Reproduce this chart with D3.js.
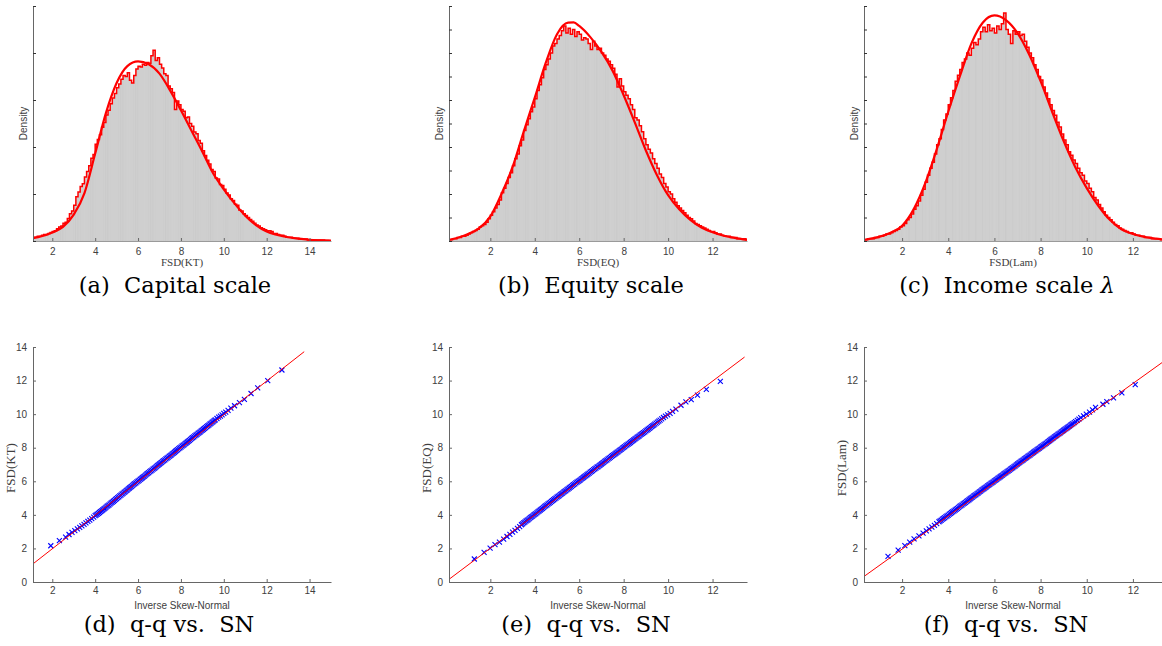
<!DOCTYPE html>
<html><head><meta charset="utf-8">
<script src="https://cdn.jsdelivr.net/npm/d3@7"></script>
<style>body{margin:0;background:#fff}svg{display:block}</style>
</head><body>
<svg id="c" width="1162" height="646"></svg>
<script>
// ---------------- DATA ----------------
const binWidth = 0.1;

// (a) FSD(KT) histogram densities, bins of width 0.1 starting at 1.1
const histStartKT = 1.1;
const histKT = [
0.004,0.004,0.005,0.005,0.006,0.007,0.007,0.008,0.009,
0.010,0.011,0.013,0.015,0.016,0.019,0.020,0.024,0.029,0.032,
0.038,0.047,0.052,0.058,0.061,0.068,0.074,0.080,0.088,0.092,
0.103,0.108,0.113,0.121,0.126,0.134,0.139,0.146,0.152,0.157,
0.163,0.167,0.172,0.176,0.175,0.179,0.171,0.168,0.176,0.183,
0.186,0.185,0.188,0.187,0.190,0.189,0.197,0.203,0.192,0.195,
0.188,0.184,0.178,0.176,0.165,0.162,0.158,0.140,0.149,0.145,
0.140,0.138,0.131,0.132,0.125,0.122,0.116,0.114,0.107,0.104,
0.096,0.091,0.086,0.082,0.076,0.074,0.067,0.066,0.060,0.059,
0.055,0.051,0.049,0.045,0.043,0.039,0.038,0.033,0.032,0.029,
0.027,0.025,0.023,0.021,0.019,0.017,0.016,0.014,0.013,0.012,
0.011,0.011,0.010,0.008,0.008,0.007,0.006,0.006,0.005,0.004,
0.004,0.004,0.003,0.003,0.003,0.002,0.002,0.002,0.002,0.001,
0.001,0.001,0.001,0.001,0.001,0.001,0.001,0.0005,0.0005,0.0003];
const fitKT = [[1.1,0.003],[1.5,0.005],[2.0,0.009],[2.5,0.015],[3.0,0.028],[3.5,0.051],[4.0,0.093],[4.5,0.136],[5.0,0.168],[5.5,0.186],[6.0,0.191],[6.5,0.188],[7.0,0.178],[7.5,0.160],[8.0,0.139],[8.5,0.117],[9.0,0.095],[9.5,0.072],[10.0,0.055],[10.5,0.040],[11.0,0.027],[11.5,0.017],[12.0,0.010],[12.5,0.0065],[13.0,0.004],[13.5,0.0025],[14.0,0.0012],[14.5,0.0007],[15.0,0.0004]];

// (b) FSD(EQ)
const histStartEQ = 0.1;
const histEQ = [
0.001,0.001,0.002,0.002,0.003,0.003,0.004,0.004,0.005,
0.006,0.007,0.008,0.009,0.010,0.012,0.013,0.014,0.016,0.019,
0.022,0.025,0.028,0.031,0.035,0.041,0.045,0.049,0.054,0.058,
0.064,0.070,0.074,0.081,0.086,0.094,0.099,0.104,0.110,0.114,
0.121,0.128,0.133,0.139,0.146,0.150,0.155,0.160,0.166,0.168,
0.172,0.175,0.179,0.183,0.177,0.181,0.176,0.180,0.174,0.178,
0.176,0.171,0.173,0.172,0.168,0.163,0.170,0.166,0.163,0.164,
0.160,0.158,0.155,0.153,0.150,0.147,0.142,0.131,0.138,0.132,
0.127,0.124,0.121,0.116,0.112,0.105,0.103,0.098,0.093,0.087,
0.082,0.078,0.075,0.070,0.066,0.062,0.057,0.054,0.049,0.046,
0.042,0.040,0.036,0.033,0.030,0.028,0.026,0.024,0.022,0.020,
0.019,0.017,0.015,0.014,0.013,0.012,0.011,0.010,0.009,0.008,
0.008,0.007,0.006,0.006,0.005,0.0045,0.004,0.004,0.003,0.003,
0.003,0.002,0.002,0.002,0.002,0.001];
const fitEQ = [[0.14,0.001],[0.5,0.0025],[1.0,0.006],[1.5,0.011],[2.0,0.021],[2.5,0.040],[3.0,0.063],[3.5,0.093],[4.0,0.122],[4.5,0.152],[5.0,0.176],[5.5,0.1858],[5.75,0.186],[6.0,0.183],[6.5,0.1735],[7.0,0.161],[7.5,0.145],[8.0,0.124],[8.5,0.101],[9.0,0.077],[9.5,0.056],[10.0,0.039],[10.5,0.027],[11.0,0.018],[11.5,0.0115],[12.0,0.0075],[12.5,0.0045],[13.0,0.0027],[13.55,0.001]];

// (c) FSD(Lam)
const histStartLam = 0.3;
const histLam = [
0.001,0.001,0.002,0.002,0.002,0.003,0.003,
0.004,0.004,0.005,0.006,0.006,0.007,0.008,0.009,0.010,0.012,
0.013,0.015,0.018,0.020,0.023,0.027,0.030,0.034,0.039,0.044,
0.050,0.056,0.062,0.067,0.074,0.082,0.087,0.095,0.103,0.108,
0.116,0.122,0.128,0.136,0.141,0.146,0.152,0.155,0.160,0.158,
0.164,0.169,0.167,0.172,0.178,0.182,0.178,0.184,0.179,0.181,
0.177,0.183,0.180,0.185,0.194,0.180,0.176,0.168,0.179,0.176,
0.178,0.175,0.176,0.170,0.165,0.160,0.156,0.150,0.146,0.140,
0.137,0.131,0.126,0.121,0.116,0.111,0.107,0.101,0.097,0.091,
0.086,0.082,0.076,0.073,0.069,0.066,0.062,0.058,0.056,0.051,
0.049,0.045,0.042,0.037,0.035,0.031,0.028,0.025,0.022,0.020,
0.018,0.016,0.014,0.013,0.011,0.010,0.009,0.008,0.007,0.007,
0.006,0.005,0.005,0.004,0.004,0.003,0.003,0.003,0.002,0.002,
0.002,0.002,0.001];
const fitLam = [[0.35,0.001],[0.5,0.0015],[1.0,0.0035],[1.5,0.007],[2.0,0.013],[2.5,0.027],[3.0,0.049],[3.5,0.078],[4.0,0.110],[4.5,0.140],[5.0,0.168],[5.5,0.186],[6.0,0.192],[6.5,0.188],[7.0,0.177],[7.5,0.159],[8.0,0.136],[8.5,0.110],[9.0,0.085],[9.5,0.063],[10.0,0.045],[10.5,0.030],[11.0,0.018],[11.5,0.010],[12.0,0.006],[12.5,0.0035],[13.0,0.002],[13.26,0.0014]];

// (d)(e)(f) q-q points: [inverse skew-normal quantile, sample quantile]
const qqKT = [[1.93,2.16],[2.33,2.47],[2.62,2.67],[2.78,2.83],[2.92,2.95],[3.05,3.06],[3.17,3.16],[3.28,3.25],[3.38,3.34],[3.48,3.43],[3.57,3.52],[3.66,3.61],[3.75,3.69],[3.84,3.78],[3.93,3.87],
[4.00,3.95],[4.05,4.00],[4.10,4.05],[4.15,4.09],[4.20,4.14],[4.25,4.19],[4.30,4.24],[4.35,4.29],[4.40,4.34],[4.45,4.39],
[4.50,4.44],[4.55,4.50],[4.60,4.55],[4.65,4.60],[4.70,4.65],[4.75,4.71],[4.80,4.76],[4.85,4.81],[4.90,4.86],[4.95,4.92],
[5.00,4.97],[5.05,5.02],[5.10,5.07],[5.15,5.13],[5.20,5.18],[5.25,5.23],[5.30,5.28],[5.35,5.34],[5.40,5.39],[5.45,5.44],
[5.50,5.49],[5.55,5.55],[5.60,5.60],[5.65,5.65],[5.70,5.70],[5.75,5.76],[5.80,5.81],[5.85,5.86],[5.90,5.91],[5.95,5.96],
[6.00,6.01],[6.05,6.06],[6.10,6.11],[6.15,6.16],[6.20,6.21],[6.25,6.26],[6.30,6.31],[6.35,6.37],[6.40,6.42],[6.45,6.47],
[6.50,6.52],[6.55,6.57],[6.60,6.62],[6.65,6.67],[6.70,6.72],[6.75,6.77],[6.80,6.82],[6.85,6.88],[6.90,6.93],[6.95,6.98],
[7.00,7.03],[7.05,7.08],[7.10,7.13],[7.15,7.18],[7.20,7.23],[7.25,7.28],[7.30,7.33],[7.35,7.38],[7.40,7.43],[7.45,7.48],
[7.50,7.53],[7.55,7.58],[7.60,7.63],[7.65,7.68],[7.70,7.73],[7.75,7.79],[7.80,7.84],[7.85,7.89],[7.90,7.94],[7.95,7.99],
[8.00,8.04],[8.05,8.09],[8.10,8.14],[8.15,8.19],[8.20,8.24],[8.25,8.29],[8.30,8.34],[8.35,8.39],[8.40,8.44],[8.45,8.50],
[8.50,8.55],[8.55,8.60],[8.60,8.65],[8.65,8.70],[8.70,8.75],[8.75,8.80],[8.80,8.85],[8.85,8.90],[8.90,8.95],[8.95,9.00],
[9.00,9.05],[9.05,9.10],[9.10,9.15],[9.15,9.20],[9.20,9.25],[9.25,9.30],[9.30,9.35],[9.35,9.40],[9.40,9.45],[9.45,9.51],
[9.50,9.56],[9.55,9.61],[9.60,9.66],
[9.68,9.74],[9.76,9.82],[9.84,9.88],[9.92,9.96],[10.0,10.04],[10.09,10.12],[10.2,10.22],[10.33,10.36],[10.5,10.5],[10.73,10.68],[10.96,10.88],[11.27,11.23],[11.58,11.57],[12.05,12.0],[12.71,12.63]];

const qqEQ = [[1.28,1.37],[1.72,1.76],[1.99,2.02],[2.21,2.22],[2.41,2.38],[2.6,2.56],[2.75,2.71],[2.88,2.84],[3.0,2.97],[3.11,3.08],[3.22,3.19],[3.32,3.3],
[3.40,3.41],[3.45,3.46],[3.50,3.52],[3.55,3.57],[3.60,3.62],[3.65,3.67],[3.70,3.72],[3.75,3.78],[3.80,3.83],[3.85,3.88],
[3.90,3.93],[3.95,3.98],[4.00,4.03],[4.05,4.08],[4.10,4.13],[4.15,4.19],[4.20,4.24],[4.25,4.29],[4.30,4.34],[4.35,4.39],
[4.40,4.44],[4.45,4.50],[4.50,4.55],[4.55,4.60],[4.60,4.65],[4.65,4.70],[4.70,4.75],[4.75,4.80],[4.80,4.85],[4.85,4.90],
[4.90,4.95],[4.95,5.00],[5.00,5.05],[5.05,5.10],[5.10,5.15],[5.15,5.20],[5.20,5.25],[5.25,5.30],[5.30,5.35],[5.35,5.40],
[5.40,5.45],[5.45,5.50],[5.50,5.55],[5.55,5.60],[5.60,5.65],[5.65,5.70],[5.70,5.75],[5.75,5.80],[5.80,5.85],[5.85,5.90],
[5.90,5.95],[5.95,5.99],[6.00,6.04],[6.05,6.09],[6.10,6.14],[6.15,6.19],[6.20,6.24],[6.25,6.29],[6.30,6.34],[6.35,6.39],
[6.40,6.44],[6.45,6.49],[6.50,6.54],[6.55,6.59],[6.60,6.64],[6.65,6.69],[6.70,6.74],[6.75,6.79],[6.80,6.84],[6.85,6.88],
[6.90,6.93],[6.95,6.98],[7.00,7.03],[7.05,7.08],[7.10,7.13],[7.15,7.18],[7.20,7.23],[7.25,7.28],[7.30,7.33],[7.35,7.38],
[7.40,7.43],[7.45,7.48],[7.50,7.53],[7.55,7.57],[7.60,7.62],[7.65,7.67],[7.70,7.72],[7.75,7.77],[7.80,7.82],[7.85,7.87],
[7.90,7.92],[7.95,7.97],[8.00,8.02],[8.05,8.07],[8.10,8.12],[8.15,8.17],[8.20,8.22],[8.25,8.26],[8.30,8.31],[8.35,8.36],
[8.40,8.41],[8.45,8.46],[8.50,8.51],[8.55,8.56],[8.60,8.61],[8.65,8.66],[8.70,8.71],[8.75,8.76],[8.80,8.81],[8.85,8.85],
[8.90,8.90],[8.95,8.95],[9.00,9.00],[9.05,9.05],[9.10,9.10],[9.15,9.15],[9.20,9.20],[9.25,9.25],[9.30,9.30],[9.35,9.35],[9.40,9.40],
[9.46,9.47],[9.52,9.53],[9.58,9.59],[9.64,9.65],[9.71,9.72],[9.79,9.8],[9.88,9.88],[9.98,9.96],[10.09,10.04],[10.2,10.16],[10.35,10.3],[10.58,10.53],[10.8,10.73],[11.04,10.87],[11.32,11.13],[11.72,11.47],[12.35,11.95]];

const qqLam = [[1.39,1.52],[1.83,1.9],[2.12,2.17],[2.33,2.38],[2.52,2.57],[2.73,2.75],[2.91,2.91],[3.05,3.05],[3.17,3.16],[3.29,3.27],[3.4,3.38],[3.5,3.48],
[3.60,3.59],[3.65,3.64],[3.70,3.69],[3.75,3.74],[3.80,3.79],[3.85,3.84],[3.90,3.89],[3.95,3.94],[4.00,3.99],[4.05,4.04],
[4.10,4.09],[4.15,4.14],[4.20,4.19],[4.25,4.24],[4.30,4.29],[4.35,4.34],[4.40,4.39],[4.45,4.45],[4.50,4.50],[4.55,4.55],
[4.60,4.60],[4.65,4.65],[4.70,4.70],[4.75,4.75],[4.80,4.80],[4.85,4.85],[4.90,4.90],[4.95,4.96],[5.00,5.01],[5.05,5.06],
[5.10,5.11],[5.15,5.16],[5.20,5.21],[5.25,5.26],[5.30,5.31],[5.35,5.37],[5.40,5.42],[5.45,5.47],[5.50,5.52],[5.55,5.57],
[5.60,5.62],[5.65,5.67],[5.70,5.72],[5.75,5.77],[5.80,5.82],[5.85,5.87],[5.90,5.92],[5.95,5.97],[6.00,6.02],[6.05,6.07],
[6.10,6.12],[6.15,6.17],[6.20,6.22],[6.25,6.27],[6.30,6.32],[6.35,6.37],[6.40,6.42],[6.45,6.47],[6.50,6.52],[6.55,6.57],
[6.60,6.62],[6.65,6.67],[6.70,6.72],[6.75,6.77],[6.80,6.82],[6.85,6.87],[6.90,6.92],[6.95,6.98],[7.00,7.03],[7.05,7.08],
[7.10,7.13],[7.15,7.18],[7.20,7.23],[7.25,7.28],[7.30,7.33],[7.35,7.38],[7.40,7.43],[7.45,7.48],[7.50,7.53],[7.55,7.58],
[7.60,7.63],[7.65,7.68],[7.70,7.73],[7.75,7.78],[7.80,7.83],[7.85,7.88],[7.90,7.93],[7.95,7.98],[8.00,8.03],[8.05,8.08],
[8.10,8.13],[8.15,8.18],[8.20,8.23],[8.25,8.28],[8.30,8.33],[8.35,8.38],[8.40,8.43],[8.45,8.49],[8.50,8.54],[8.55,8.59],
[8.60,8.64],[8.65,8.69],[8.70,8.74],[8.75,8.79],[8.80,8.84],[8.85,8.89],[8.90,8.94],[8.95,8.99],[9.00,9.04],[9.05,9.09],
[9.10,9.14],[9.15,9.19],[9.20,9.24],[9.25,9.29],[9.30,9.34],[9.35,9.39],[9.40,9.44],
[9.46,9.5],[9.52,9.56],[9.59,9.63],[9.66,9.7],[9.74,9.79],[9.86,9.9],[9.98,10.0],[10.12,10.12],[10.25,10.26],[10.38,10.4],[10.7,10.59],[10.87,10.75],[11.16,10.97],[11.52,11.27],[12.1,11.76]];

// reference lines (endpoints)
const refKT = [[1.1,1.08],[13.75,13.72]];
const refEQ = [[0.14,0.16],[13.44,13.4]];
const refLam = [[0.35,0.33],[13.26,13.07]];

// ticks & labels
const xTicksKT = [2,4,6,8,10,12,14];
const xTicksEQ = [2,4,6,8,10,12];
const xTicksLam = [2,4,6,8,10,12];
const densTicksKT = [0,0.05,0.10,0.15,0.20,0.25];
const densTicks = [0,0.02,0.04,0.06,0.08,0.10,0.12,0.14,0.16,0.18,0.20];
const qqYTicks = [0,2,4,6,8,10,12,14];
const histXLabels = ["FSD(KT)","FSD(EQ)","FSD(Lam)"];
const captionsTop = ["(a)  Capital scale","(b)  Equity scale","(c)  Income scale "];
const captionsBottom = ["(d)  q-q vs.  SN","(e)  q-q vs.  SN","(f)  q-q vs.  SN"];

// ---------------- DRAW ----------------
const svg = d3.select('#c');
const sans = 'Liberation Sans, Arial, Helvetica, sans-serif';
const serif = 'Liberation Serif, DejaVu Serif, serif';
const capSerif = 'DejaVu Serif';
const axisColor = '#666';
const tickText = '#404040';

const cols = [
  {left:33, right:331, capTop:175, capBot:169},
  {left:449, right:747, capTop:591, capBot:586},
  {left:864, right:1162, capTop:1007, capBot:1006}
];
const histTop = 6, histBottom = 241, qqTop = 347, qqBottom = 582;

function styleAxis(g){
  g.select('.domain').attr('stroke', axisColor);
  g.selectAll('.tick line').attr('stroke', axisColor);
  g.selectAll('.tick text').attr('font-family', sans).attr('font-size', 10).attr('fill', tickText);
}

function caption(x, y, txt, withLambda){
  const t = svg.append('text').attr('x', x).attr('y', y).attr('text-anchor', 'middle')
    .attr('font-family', capSerif).attr('font-size', 22.5)
    .attr('fill', '#000')
    .style('white-space', 'pre').text(txt);
  if (withLambda) t.append('tspan').attr('font-style', 'italic').text('λ');
}

function histPanel(i, start, values, fit, xDomain, yDomain, xTicks, yTicks){
  const c = cols[i];
  const x = d3.scaleLinear().domain(xDomain).range([c.left, c.right]);
  const y = d3.scaleLinear().domain(yDomain).range([histBottom, histTop]);
  const id = 'hclip' + i;
  svg.append('clipPath').attr('id', id).append('rect')
    .attr('x', c.left).attr('y', histTop - 4).attr('width', c.right - c.left).attr('height', histBottom - histTop + 4);
  const g = svg.append('g');
  const pg = g.append('g').attr('clip-path', `url(#${id})`);
  const bins = values.map((v, k) => ({x0: start + k * binWidth, x1: start + (k + 1) * binWidth, v}));
  pg.selectAll('rect.bar').data(bins).join('rect').attr('class', 'bar')
    .attr('x', d => x(d.x0)).attr('width', d => x(d.x1) - x(d.x0))
    .attr('y', d => y(d.v)).attr('height', d => y(0) - y(d.v))
    .attr('fill', '#cfcfcf').attr('stroke', '#c2c2c2').attr('stroke-width', 0.3);
  const pts = bins.map(d => [d.x0, d.v]);
  pts.push([bins[bins.length - 1].x1, bins[bins.length - 1].v]);
  pg.append('path')
    .attr('d', d3.line().x(d => x(d[0])).y(d => y(d[1])).curve(d3.curveStepAfter)(pts))
    .attr('fill', 'none').attr('stroke', '#ff0000').attr('stroke-width', 1.5);
  pg.append('path')
    .attr('d', d3.line().x(d => x(d[0])).y(d => y(d[1])).curve(d3.curveMonotoneX)(fit))
    .attr('fill', 'none').attr('stroke', '#ff0000').attr('stroke-width', 2.2);
  const ax = g.append('g').attr('transform', `translate(0,${histBottom})`)
    .call(d3.axisBottom(x).tickValues(xTicks).tickSize(-3).tickSizeOuter(0).tickPadding(7));
  styleAxis(ax);
  ax.select('.domain').attr('stroke', '#9a9a9a');
  const ay = g.append('g').attr('transform', `translate(${c.left},0)`)
    .call(d3.axisLeft(y).tickValues(yTicks).tickSize(-3).tickSizeOuter(0).tickFormat(''));
  styleAxis(ay);
  ay.selectAll('.tick line').attr('stroke', '#333');
  g.append('text').attr('x', (c.left + c.right) / 2).attr('y', 266)
    .attr('text-anchor', 'middle').attr('font-family', serif).attr('font-size', 11).attr('fill', tickText)
    .text(histXLabels[i]);
  g.append('text').attr('transform', `translate(${c.left - 10},${(histTop + histBottom) / 2}) rotate(-90)`)
    .attr('text-anchor', 'middle').attr('dy', '0.35em').attr('font-family', sans).attr('font-size', 10).attr('fill', tickText)
    .text('Density');
  caption(c.capTop, 293, captionsTop[i], i === 2);
}

function qqPanel(i, pts, ref, xDomain, xTicks, yLabel){
  const c = cols[i];
  const x = d3.scaleLinear().domain(xDomain).range([c.left, c.right]);
  const y = d3.scaleLinear().domain([0, 14]).range([qqBottom, qqTop]);
  const g = svg.append('g');
  const m = 2.5;
  g.selectAll('path.mk').data(pts).join('path').attr('class', 'mk')
    .attr('transform', d => `translate(${x(d[0])},${y(d[1])})`)
    .attr('d', `M${-m},${-m}L${m},${m}M${-m},${m}L${m},${-m}`)
    .attr('stroke', '#0000ff').attr('stroke-width', 1.1).attr('fill', 'none');
  g.append('path').attr('d', d3.line().x(d => x(d[0])).y(d => y(d[1]))(ref))
    .attr('stroke', '#ff0000').attr('stroke-width', 1).attr('fill', 'none');
  const ax = g.append('g').attr('transform', `translate(0,${qqBottom})`)
    .call(d3.axisBottom(x).tickValues(xTicks).tickSize(-3).tickSizeOuter(0).tickPadding(5));
  styleAxis(ax);
  const ay = g.append('g').attr('transform', `translate(${c.left},0)`)
    .call(d3.axisLeft(y).tickValues(qqYTicks).tickSize(-3).tickSizeOuter(0).tickPadding(6));
  styleAxis(ay);
  g.append('text').attr('x', (c.left + c.right) / 2).attr('y', 608.5)
    .attr('text-anchor', 'middle').attr('font-family', sans).attr('font-size', 10).attr('fill', tickText)
    .text('Inverse Skew-Normal');
  g.append('text').attr('transform', `translate(${c.left - 23},468) rotate(-90)`)
    .attr('text-anchor', 'middle').attr('dy', '0.35em').attr('font-family', serif).attr('font-size', 13).attr('fill', tickText)
    .text(yLabel);
  caption(c.capBot, 632, captionsBottom[i], false);
}

histPanel(0, histStartKT, histKT, fitKT, [1.1, 15.0], [0, 0.25], xTicksKT, densTicksKT);
histPanel(1, histStartEQ, histEQ, fitEQ, [0.14, 13.55], [0, 0.2], xTicksEQ, densTicks);
histPanel(2, histStartLam, histLam, fitLam, [0.35, 13.26], [0, 0.2], xTicksLam, densTicks);
qqPanel(0, qqKT, refKT, [1.1, 15.0], xTicksKT, 'FSD(KT)');
qqPanel(1, qqEQ, refEQ, [0.14, 13.55], xTicksEQ, 'FSD(EQ)');
qqPanel(2, qqLam, refLam, [0.35, 13.26], xTicksLam, 'FSD(Lam)');
</script>
</body></html>
